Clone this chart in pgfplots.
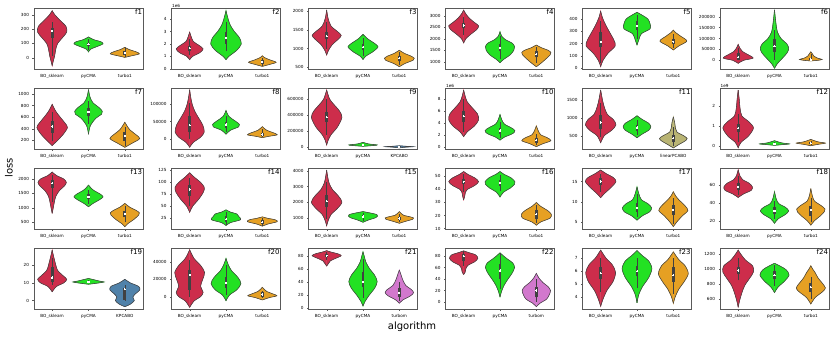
\documentclass[border=0pt]{standalone}
\usepackage{fontspec}
\setmainfont{DejaVu Sans}
\usepackage{pgfplots}
\pgfplotsset{compat=1.18}

\definecolor{cBO}{RGB}{205,45,75}
\definecolor{cCMA}{RGB}{35,225,35}
\definecolor{cTB}{RGB}{230,160,35}
\definecolor{cKP}{RGB}{80,130,170}
\definecolor{cLP}{RGB}{185,180,115}
\definecolor{cTM}{RGB}{210,120,205}
\definecolor{edge}{RGB}{65,65,65}

\pgfplotsset{
  vp/.style={scale only axis, width=109pt, height=61pt, anchor=south west,
    xmin=-0.5, xmax=2.5, xtick={0,1,2}, clip mode=individual,
    axis line style={black!65, line width=0.4pt},
    tick style={black!65, line width=0.3pt}, tick align=outside,
    major tick length=1.5pt, xtick pos=left, ytick pos=left,
    ticklabel style={font=\fontsize{4.2}{5}\selectfont},
    scaled y ticks=false,
    /pgf/number format/assume math mode=true,
    /pgf/number format/fixed, /pgf/number format/1000 sep={}},
}
\tikzset{ttl/.style={anchor=north east, inner sep=0.8pt, font=\fontsize{7}{7}\selectfont},
  mult/.style={anchor=south west, inner sep=0.5pt, font=\fontsize{4.2}{5}\selectfont}}

% violin: position, colour, rows "y halfwidth"
\newcommand\violin[3]{%
  \addplot[fill=#2, draw=#2, line width=0.3pt, smooth] table[header=false, row sep=\\, x expr=#1+\thisrowno{1}, y index=0]{#3} -- cycle;
  \addplot[fill=#2, draw=#2, line width=0.3pt, smooth] table[header=false, row sep=\\, x expr=#1-\thisrowno{1}, y index=0]{#3} -- cycle;
  \addplot[draw=edge, line width=0.55pt, smooth] table[header=false, row sep=\\, x expr=#1+\thisrowno{1}, y index=0]{#3};
  \addplot[draw=edge, line width=0.55pt, smooth] table[header=false, row sep=\\, x expr=#1-\thisrowno{1}, y index=0]{#3};
}
% inner box: position, whisker low, q1, median, q3, whisker high
\newcommand\inner[6]{%
  \addplot[draw=edge, line width=0.6pt] coordinates {(#1,#2) (#1,#6)};
  \addplot[draw=edge, line width=2.8pt, line cap=butt] coordinates {(#1,#3) (#1,#5)};
  \addplot[only marks, mark=*, mark size=0.65pt, mark options={fill=white, draw=white, line width=0pt}] coordinates {(#1,#4)};
}

\begin{document}
\begin{tikzpicture}
\path[use as bounding box] (0,0) rectangle (831pt,338pt);

% ---- row 1
\begin{axis}[vp, at={(34pt,269pt)}, ymin=-80, ymax=350, ytick={0,100,200,300}, xticklabels={BO\_sklearn,pyCMA,turbo1}]
\violin{0}{cBO}{-56 0\\-25 .03\\15 .07\\60 .1\\100 .15\\140 .28\\180 .4\\220 .38\\260 .23\\300 .08\\331 0\\}
\violin{1}{cCMA}{40 0\\60 .06\\80 .25\\97 .4\\112 .34\\127 .14\\146 0\\}
\violin{2}{cTB}{2 0\\12 .17\\27 .4\\42 .3\\57 .12\\73 0\\}
\inner{0}{15}{140}{190}{210}{250}
\inner{1}{55}{82}{95}{105}{130}
\inner{2}{5}{22}{35}{45}{65}
\node[ttl] at (rel axis cs:1,1) {f1};
\end{axis}

\begin{axis}[vp, at={(171.5pt,269pt)}, ymin=-0.02, ymax=4.9, ytick={0,1,2,3,4}, xticklabels={BO\_sklearn,pyCMA,turbo1}]
\violin{0}{cBO}{.73 0\\1 .08\\1.3 .28\\1.6 .37\\1.9 .25\\2.2 .1\\2.6 .04\\2.96 0\\}
\violin{1}{cCMA}{.73 0\\1 .08\\1.5 .3\\2 .42\\2.5 .37\\3 .23\\3.5 .12\\4 .06\\4.68 0\\}
\violin{2}{cTB}{.19 0\\.35 .2\\.52 .38\\.7 .22\\.9 .06\\1.05 0\\}
\inner{0}{1.1}{1.45}{1.65}{1.85}{2.4}
\inner{1}{1.4}{2.0}{2.5}{3.0}{3.8}
\inner{2}{.25}{.4}{.55}{.7}{.9}
\node[ttl] at (rel axis cs:1,1) {f2};
\node[mult] at (rel axis cs:0,1) {1e6};
\end{axis}

\begin{axis}[vp, at={(308.5pt,269pt)}, ymin=455, ymax=2080, ytick={500,1000,1500,2000}, xticklabels={BO\_sklearn,pyCMA,turbo1}]
\violin{0}{cBO}{827 0\\950 .05\\1100 .15\\1250 .32\\1350 .4\\1450 .3\\1600 .12\\1800 .04\\2027 0\\}
\violin{1}{cCMA}{708 0\\800 .08\\900 .25\\1000 .38\\1060 .41\\1150 .3\\1250 .14\\1377 0\\}
\violin{2}{cTB}{516 0\\600 .15\\690 .38\\740 .41\\800 .32\\870 .14\\955 0\\}
\inner{0}{1000}{1250}{1330}{1430}{1700}
\inner{1}{800}{950}{1040}{1130}{1280}
\inner{2}{560}{660}{740}{800}{900}
\node[ttl] at (rel axis cs:1,1) {f3};
\end{axis}

\begin{axis}[vp, at={(445.5pt,269pt)}, ymin=683, ymax=3335, ytick={1000,1500,2000,2500,3000}, xticklabels={BO\_sklearn,pyCMA,turbo1}]
\violin{0}{cBO}{1814 0\\2000 .06\\2200 .2\\2400 .36\\2560 .41\\2700 .3\\2900 .15\\3100 .05\\3248 0\\}
\violin{1}{cCMA}{957 0\\1100 .1\\1300 .28\\1500 .38\\1650 .4\\1800 .34\\1950 .16\\2100 .05\\2304 0\\}
\violin{2}{cTB}{783 0\\900 .1\\1100 .25\\1300 .38\\1400 .4\\1500 .32\\1600 .15\\1726 0\\}
\inner{0}{2150}{2450}{2580}{2700}{2950}
\inner{1}{1100}{1450}{1600}{1780}{2100}
\inner{2}{950}{1200}{1330}{1450}{1650}
\node[ttl] at (rel axis cs:1,1) {f4};
\end{axis}

\begin{axis}[vp, at={(582.5pt,269pt)}, ymin=-8, ymax=490, ytick={0,100,200,300,400}, xticklabels={BO\_sklearn,pyCMA,turbo1}]
\violin{0}{cBO}{11 0\\60 .06\\120 .2\\180 .4\\230 .36\\290 .25\\350 .14\\410 .05\\465 0\\}
\violin{1}{cCMA}{188 0\\230 .05\\280 .12\\320 .36\\360 .36\\400 .3\\430 .15\\455 0\\}
\violin{2}{cTB}{147 0\\180 .15\\220 .37\\260 .2\\290 .06\\310 0\\}
\inner{0}{40}{170}{215}{290}{380}
\inner{1}{240}{310}{345}{380}{430}
\inner{2}{165}{195}{215}{240}{275}
\node[ttl] at (rel axis cs:1,1) {f5};
\end{axis}

\begin{axis}[vp, at={(720pt,269pt)}, ymin=-40000, ymax=240000, ytick={0,50000,100000,150000,200000}, xticklabels={BO\_sklearn,pyCMA,turbo1}]
\violin{0}{cBO}{-14000 0\\0 .15\\10000 .41\\25000 .28\\40000 .12\\55000 .05\\73000 0\\}
\violin{1}{cCMA}{-37000 0\\-15000 .08\\10000 .22\\35000 .35\\55000 .39\\75000 .34\\100000 .18\\130000 .08\\170000 .04\\231000 0\\}
\violin{2}{cTB}{-3000 0\\0 .2\\4000 .31\\10000 .18\\20000 .08\\30000 .04\\39000 0\\}
\inner{0}{0}{3000}{15000}{32000}{55000}
\inner{1}{0}{40000}{65000}{100000}{140000}
\inner{2}{-2000}{0}{3000}{12000}{30000}
\node[ttl] at (rel axis cs:1,1) {f6};
\end{axis}

% ---- row 2
\begin{axis}[vp, at={(34pt,189pt)}, ymin=50, ymax=1103, ytick={200,400,600,800,1000}, xticklabels={BO\_sklearn,pyCMA,turbo1}]
\violin{0}{cBO}{109 0\\200 .15\\300 .3\\420 .42\\500 .35\\600 .22\\700 .1\\822 0\\}
\violin{1}{cCMA}{305 0\\450 .05\\580 .2\\650 .36\\700 .38\\760 .3\\850 .12\\950 .04\\1074 0\\}
\violin{2}{cTB}{79 0\\150 .2\\230 .41\\300 .3\\380 .14\\450 .06\\512 0\\}
\inner{0}{180}{330}{440}{540}{690}
\inner{1}{480}{620}{690}{760}{880}
\inner{2}{110}{190}{280}{340}{430}
\node[ttl] at (rel axis cs:1,1) {f7};
\end{axis}

\begin{axis}[vp, at={(171.5pt,189pt)}, ymin=-29000, ymax=147000, ytick={0,50000,100000}, xticklabels={BO\_sklearn,pyCMA,turbo1}]
\violin{0}{cBO}{-24000 0\\-10000 .1\\5000 .3\\20000 .4\\40000 .36\\60000 .25\\80000 .14\\100000 .07\\120000 .03\\142000 0\\}
\violin{1}{cCMA}{13600 0\\25000 .12\\35000 .35\\42000 .37\\52000 .25\\65000 .08\\82000 0\\}
\violin{2}{cTB}{3800 0\\8000 .2\\12000 .41\\18000 .3\\25000 .12\\35500 0\\}
\inner{0}{0}{20000}{40000}{65000}{105000}
\inner{1}{20000}{33000}{42000}{50000}{65000}
\inner{2}{5000}{8000}{13000}{17000}{28000}
\node[ttl] at (rel axis cs:1,1) {f8};
\end{axis}

\begin{axis}[vp, at={(308.5pt,189pt)}, ymin=-29000, ymax=738000, ytick={0,200000,400000,600000}, xticklabels={BO\_sklearn,pyCMA,KPCABO}]
\violin{0}{cBO}{21000 0\\80000 .04\\150000 .12\\250000 .3\\370000 .42\\450000 .35\\530000 .2\\600000 .08\\713000 0\\}
\violin{1}{cCMA}{5000 0\\15000 .3\\22000 .39\\35000 .15\\55000 0\\}
\violin{2}{cKP}{-15000 0\\-5000 .2\\0 .39\\5000 .2\\12000 0\\}
\inner{0}{150000}{310000}{370000}{440000}{600000}
\inner{1}{8000}{15000}{22000}{28000}{40000}
\inner{2}{-8000}{-3000}{0}{3000}{8000}
\node[ttl] at (rel axis cs:1,1) {f9};
\end{axis}

\begin{axis}[vp, at={(445.5pt,189pt)}, ymin=-0.39, ymax=9.85, ytick={0,2,4,6,8}, xticklabels={BO\_sklearn,pyCMA,turbo1}]
\violin{0}{cBO}{1.68 0\\2.5 .1\\3.5 .3\\4.5 .41\\5.5 .38\\6.5 .24\\7.5 .1\\8.5 .04\\9.5 0\\}
\violin{1}{cCMA}{1.1 0\\1.6 .12\\2.2 .35\\2.7 .41\\3.2 .3\\3.8 .12\\4.5 .05\\5.4 0\\}
\violin{2}{cTB}{0 0\\.5 .18\\1 .4\\1.5 .3\\2 .12\\2.7 .05\\3.5 0\\}
\inner{0}{2.5}{4.1}{5.1}{6.0}{8.0}
\inner{1}{1.5}{2.2}{2.7}{3.2}{4.2}
\inner{2}{.2}{.7}{1.1}{1.5}{2.2}
\node[ttl] at (rel axis cs:1,1) {f10};
\node[mult] at (rel axis cs:0,1) {1e6};
\end{axis}

\begin{axis}[vp, at={(582.5pt,189pt)}, ymin=126, ymax=1837, ytick={500,1000,1500}, xticklabels={BO\_sklearn,pyCMA,linearPCABO}]
\violin{0}{cBO}{303 0\\500 .1\\650 .3\\800 .42\\950 .35\\1100 .18\\1300 .1\\1500 .05\\1781 0\\}
\violin{1}{cCMA}{441 0\\550 .15\\650 .32\\750 .38\\850 .32\\950 .15\\1059 0\\}
\violin{2}{cLP}{155 0\\250 .15\\350 .32\\420 .38\\500 .28\\600 .1\\700 .06\\850 .04\\1026 0\\}
\inner{0}{450}{700}{870}{1080}{1420}
\inner{1}{530}{640}{730}{810}{950}
\inner{2}{200}{330}{430}{520}{750}
\node[ttl] at (rel axis cs:1,1) {f11};
\end{axis}

\begin{axis}[vp, at={(720pt,189pt)}, ymin=-0.13, ymax=2.87, ytick={0,1,2}, xticklabels={BO\_sklearn,pyCMA,turbo1}]
\violin{0}{cBO}{-.07 0\\.2 .08\\.5 .28\\.9 .42\\1.2 .3\\1.5 .1\\1.9 .05\\2.3 .03\\2.77 0\\}
\violin{1}{cCMA}{.05 0\\.09 .25\\.12 .41\\.17 .2\\.28 0\\}
\violin{2}{cTB}{.03 0\\.1 .2\\.16 .4\\.22 .2\\.34 0\\}
\inner{0}{.2}{.7}{.9}{1.1}{1.6}
\inner{1}{.07}{.1}{.12}{.15}{.2}
\inner{2}{.06}{.12}{.16}{.2}{.28}
\node[ttl] at (rel axis cs:1,1) {f12};
\node[mult] at (rel axis cs:0,1) {1e9};
\end{axis}

% ---- row 3
\begin{axis}[vp, at={(34pt,109pt)}, ymin=267, ymax=2382, ytick={500,1000,1500,2000}, xticklabels={BO\_sklearn,pyCMA,turbo1}]
\violin{0}{cBO}{809 0\\1000 .03\\1200 .06\\1400 .1\\1600 .2\\1750 .33\\1880 .39\\2000 .32\\2120 .12\\2243 0\\}
\violin{1}{cCMA}{1038 0\\1150 .12\\1280 .3\\1380 .4\\1480 .32\\1600 .15\\1700 .06\\1792 0\\}
\violin{2}{cTB}{344 0\\450 .08\\600 .25\\750 .38\\830 .4\\920 .3\\1020 .14\\1155 0\\}
\inner{0}{1200}{1700}{1850}{1980}{2150}
\inner{1}{1150}{1300}{1380}{1470}{1620}
\inner{2}{500}{680}{790}{880}{1050}
\node[ttl] at (rel axis cs:1,1) {f13};
\end{axis}

\begin{axis}[vp, at={(171.5pt,109pt)}, ymin=2.7, ymax=130, ytick={25,50,75,100,125}, xticklabels={BO\_sklearn,pyCMA,turbo1}]
\violin{0}{cBO}{37.5 0\\50 .08\\65 .25\\80 .38\\90 .4\\100 .3\\110 .14\\120 0\\}
\violin{1}{cCMA}{10 0\\16 .12\\22 .4\\28 .36\\34 .3\\38 .12\\42.7 0\\}
\violin{2}{cTB}{8.6 0\\13 .15\\18 .41\\22 .35\\25 .15\\28 0\\}
\inner{0}{50}{72}{85}{95}{110}
\inner{1}{12}{18}{23}{30}{38}
\inner{2}{10}{14}{17}{21}{26}
\node[ttl] at (rel axis cs:1,1) {f14};
\end{axis}

\begin{axis}[vp, at={(308.5pt,109pt)}, ymin=271, ymax=4190, ytick={1000,2000,3000,4000}, xticklabels={BO\_sklearn,pyCMA,turbo1}]
\violin{0}{cBO}{470 0\\800 .04\\1200 .12\\1600 .3\\2000 .42\\2400 .32\\2800 .16\\3200 .07\\3600 .03\\4060 0\\}
\violin{1}{cCMA}{703 0\\850 .15\\1000 .35\\1100 .4\\1200 .38\\1300 .2\\1390 0\\}
\violin{2}{cTB}{638 0\\750 .15\\900 .37\\980 .39\\1050 .3\\1150 .12\\1250 .06\\1390 0\\}
\inner{0}{900}{1700}{2050}{2450}{3300}
\inner{1}{780}{950}{1080}{1200}{1320}
\inner{2}{700}{820}{950}{1050}{1250}
\node[ttl] at (rel axis cs:1,1) {f15};
\end{axis}

\begin{axis}[vp, at={(445.5pt,109pt)}, ymin=9.6, ymax=56.5, ytick={10,20,30,40,50}, xticklabels={BO\_sklearn,pyCMA,turbo1}]
\violin{0}{cBO}{32 0\\35 .03\\38 .05\\40 .1\\43 .3\\46 .41\\49 .3\\51.5 .12\\53.8 0\\}
\violin{1}{cCMA}{34.2 0\\38 .1\\41 .28\\44 .4\\46 .41\\49 .3\\51.5 .12\\53.8 0\\}
\violin{2}{cTB}{12.5 0\\15 .12\\18 .38\\21 .41\\24 .3\\27 .12\\30 0\\}
\inner{0}{38}{44}{46}{48}{52}
\inner{1}{39}{42.5}{45}{47}{51}
\inner{2}{14}{17}{21}{24}{28}
\node[ttl] at (rel axis cs:1,1) {f16};
\end{axis}

\begin{axis}[vp, at={(582.5pt,109pt)}, ymin=3.2, ymax=18.4, ytick={5,10,15}, xticklabels={BO\_sklearn,pyCMA,turbo1}]
\violin{0}{cBO}{11 0\\12 .1\\13.5 .28\\15 .42\\16 .35\\17 .15\\17.9 0\\}
\violin{1}{cCMA}{5.4 0\\6.5 .15\\7.5 .35\\8.5 .4\\9.5 .3\\10.5 .12\\12 .05\\13.7 0\\}
\violin{2}{cTB}{3.8 0\\5 .1\\6.5 .25\\7.8 .4\\9 .32\\10.5 .15\\11.5 .06\\12.5 0\\}
\inner{0}{12.5}{14.2}{15}{15.8}{17}
\inner{1}{6.3}{7.5}{8.5}{9.7}{12}
\inner{2}{4.5}{6.8}{8}{9.2}{11}
\node[ttl] at (rel axis cs:1,1) {f17};
\end{axis}

\begin{axis}[vp, at={(720pt,109pt)}, ymin=10.7, ymax=79, ytick={20,40,60}, xticklabels={BO\_sklearn,pyCMA,turbo1}]
\violin{0}{cBO}{46 0\\50 .15\\54 .36\\58 .39\\62 .3\\66 .12\\70 .05\\77 0\\}
\violin{1}{cCMA}{17 0\\22 .1\\27 .3\\31 .39\\35 .3\\39 .12\\44 .05\\52.5 0\\}
\violin{2}{cTB}{15 0\\20 .1\\25 .25\\30 .37\\33 .39\\37 .28\\42 .1\\48 .04\\56 0\\}
\inner{0}{49}{54}{58}{62}{70}
\inner{1}{22}{27}{31}{35}{42}
\inner{2}{18}{25}{32}{37}{45}
\node[ttl] at (rel axis cs:1,1) {f18};
\end{axis}

% ---- row 4
\begin{axis}[vp, at={(34pt,29pt)}, ymin=-4.7, ymax=29.6, ytick={0,10,20}, xticklabels={BO\_sklearn,pyCMA,KPCABO}]
\violin{0}{cBO}{5 0\\8 .12\\10 .32\\12 .4\\14 .3\\17 .15\\20 .1\\24 .05\\28.4 0\\}
\violin{1}{cCMA}{9.2 0\\10 .3\\10.5 .43\\11 .3\\12.5 0\\}
\violin{2}{cKP}{-3.4 0\\-2 .15\\0 .26\\2 .22\\4 .3\\6 .41\\8 .38\\10 .15\\12 0\\}
\inner{0}{9}{10.5}{13}{19}{24}
\inner{1}{9.8}{10.2}{10.5}{10.9}{11.5}
\inner{2}{0}{.5}{6.5}{7.2}{9}
\node[ttl] at (rel axis cs:1,1) {f19};
\end{axis}

\begin{axis}[vp, at={(171.5pt,29pt)}, ymin=-14200, ymax=56000, ytick={0,20000,40000}, xticklabels={BO\_sklearn,pyCMA,turbo1}]
\violin{0}{cBO}{-12300 0\\-5000 .12\\0 .3\\5000 .37\\12000 .3\\20000 .36\\28000 .41\\36000 .3\\44000 .12\\54000 0\\}
\violin{1}{cCMA}{-4600 0\\2000 .1\\8000 .3\\15000 .41\\22000 .33\\30000 .15\\37000 .06\\44000 0\\}
\violin{2}{cTB}{-3800 0\\-1000 .2\\1000 .4\\3000 .3\\6000 .12\\8500 .05\\10900 0\\}
\inner{0}{0}{8000}{25000}{31000}{42000}
\inner{1}{2000}{10000}{16000}{23000}{36000}
\inner{2}{-1000}{0}{2500}{5000}{7000}
\node[ttl] at (rel axis cs:1,1) {f20};
\end{axis}

\begin{axis}[vp, at={(308.5pt,29pt)}, ymin=-2, ymax=91.8, ytick={0,20,40,60,80}, xticklabels={BO\_sklearn,pyCMA,turbom}]
\violin{0}{cBO}{64 0\\68 .05\\72 .1\\76 .25\\80 .4\\83 .3\\85.5 .12\\87.7 0\\}
\violin{1}{cCMA}{2.6 0\\10 .06\\20 .18\\30 .32\\40 .39\\50 .32\\60 .18\\70 .08\\80 .03\\86 0\\}
\violin{2}{cTM}{6.8 0\\12 .1\\18 .3\\23 .39\\28 .33\\34 .18\\42 .1\\50 .05\\58 0\\}
\inner{0}{74}{78}{80}{82}{85}
\inner{1}{15}{32}{40}{55}{75}
\inner{2}{10}{17}{23}{30}{40}
\node[ttl] at (rel axis cs:1,1) {f21};
\end{axis}

\begin{axis}[vp, at={(445.5pt,29pt)}, ymin=-12, ymax=94, ytick={0,20,40,60,80}, xticklabels={BO\_sklearn,pyCMA,turbom}]
\violin{0}{cBO}{48 0\\52 .04\\58 .06\\64 .12\\70 .3\\76 .39\\82 .33\\86 .14\\89 0\\}
\violin{1}{cCMA}{9 0\\20 .05\\30 .12\\40 .22\\50 .33\\60 .4\\68 .35\\75 .2\\80 .1\\85.7 0\\}
\violin{2}{cTM}{-8 0\\-2 .1\\5 .28\\12 .35\\20 .39\\27 .32\\34 .18\\42 .07\\50 0\\}
\inner{0}{62}{72}{80}{83}{88}
\inner{1}{22}{40}{55}{67}{85}
\inner{2}{0}{8}{20}{27}{40}
\node[ttl] at (rel axis cs:1,1) {f22};
\end{axis}

\begin{axis}[vp, at={(582.5pt,29pt)}, ymin=3.07, ymax=7.8, ytick={4,5,6,7}, xticklabels={BO\_sklearn,pyCMA,turbo1}]
\violin{0}{cBO}{3.27 0\\3.8 .06\\4.5 .17\\5.2 .34\\5.9 .41\\6.5 .32\\7 .15\\7.64 0\\}
\violin{1}{cCMA}{3.55 0\\4.2 .05\\4.8 .15\\5.5 .32\\6.2 .41\\6.8 .32\\7.2 .15\\7.6 0\\}
\violin{2}{cTB}{3.5 0\\4 .05\\4.6 .15\\5.2 .3\\5.8 .41\\6.4 .33\\6.9 .15\\7.5 0\\}
\inner{0}{4.4}{5.4}{5.85}{6.3}{7}
\inner{1}{4.7}{5.6}{6}{6.4}{7}
\inner{2}{4.2}{5.2}{5.7}{6.3}{7}
\node[ttl] at (rel axis cs:1,1) {f23};
\end{axis}

\begin{axis}[vp, at={(720pt,29pt)}, ymin=467, ymax=1280, ytick={600,800,1000,1200}, xticklabels={BO\_sklearn,pyCMA,turbo1}]
\violin{0}{cBO}{490 0\\580 .04\\680 .1\\780 .18\\880 .32\\960 .42\\1040 .4\\1120 .2\\1200 .07\\1253 0\\}
\violin{1}{cCMA}{685 0\\760 .1\\840 .28\\920 .4\\990 .32\\1040 .15\\1076 0\\}
\violin{2}{cTB}{533 0\\620 .12\\700 .33\\750 .4\\820 .3\\880 .2\\950 .12\\1000 .05\\1044 0\\}
\inner{0}{850}{930}{980}{1030}{1150}
\inner{1}{770}{870}{920}{970}{1050}
\inner{2}{600}{700}{760}{820}{900}
\node[ttl] at (rel axis cs:1,1) {f24};
\end{axis}

\node[rotate=90, font=\fontsize{10}{10}\selectfont] at (9pt,170pt) {loss};
\node[font=\fontsize{10}{10}\selectfont] at (412pt,11pt) {algorithm};
\end{tikzpicture}
\end{document}
